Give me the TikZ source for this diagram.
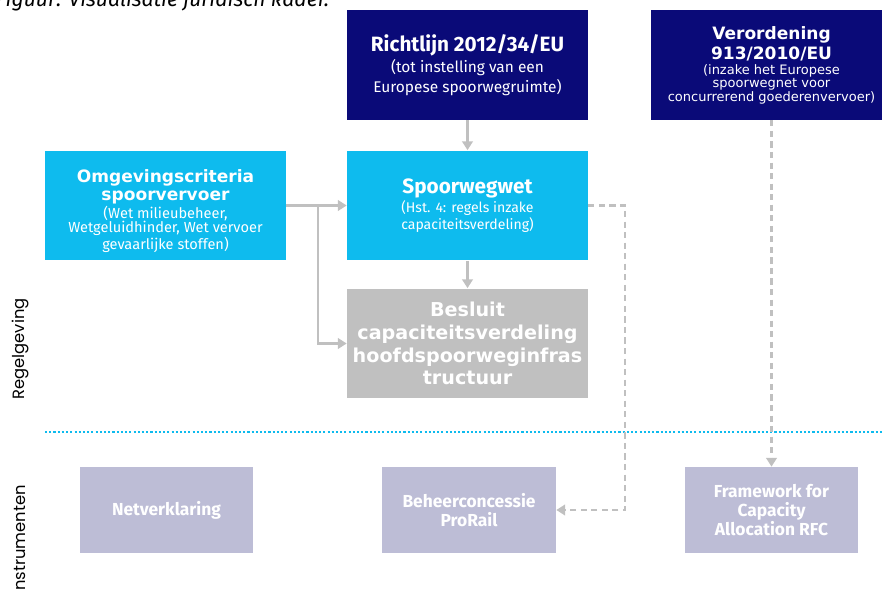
\documentclass[tikz,border=0pt]{standalone}
\usepackage{fontspec}
\setmainfont{Fira Sans}
\newfontfamily\widefont{DejaVu Sans}
\newfontfamily\sidefont{Poppins}
\usetikzlibrary{arrows.meta}
\definecolor{navy}{RGB}{10,10,120}
\definecolor{skyblue}{RGB}{14,187,238}
\definecolor{stonegray}{RGB}{192,192,192}
\definecolor{lilac}{RGB}{189,189,214}
\definecolor{linegray}{RGB}{192,192,192}
% line fonts (a \\ must not sit inside a group)
\newcommand\headfont{\bfseries\fontsize{11.8}{12}\selectfont}
\newcommand\widehead{\widefont\bfseries\fontsize{9.7}{10.5}\selectfont}
\tikzset{
	bigbox/.style={fill=#1, text=white, align=center, inner sep=2pt, minimum width=4.82cm, minimum height=2.2cm},
	smallbox/.style={fill=lilac, text=white, align=center, inner sep=2pt, minimum width=3.48cm, minimum height=1.72cm, font=\bfseries\fontsize{9.9}{10.8}\selectfont},
	conn/.style={draw=linegray, line width=1.5pt, -{Triangle[length=5pt,width=6pt]}},
	dconn/.style={conn, line width=1.3pt, dash pattern=on 3.5pt off 2.5pt},
	sidelabel/.style={rotate=90, font=\sidefont\fontsize{9.3}{11}\selectfont}
}
\begin{document}
\begin{tikzpicture}[x=0.02cm, y=-0.02cm]
		\useasboundingbox (0,0) rectangle (882,590);
		\clip (0,0) rectangle (882,590);
		\node (caption) at (-10,7) [anchor=base west, font=\itshape\fontsize{12}{13}\selectfont]{Figuur: Visualisatie juridisch kader.};
		
		%regelgeving
		\node (richtlijn) at (467.5,65) [bigbox=navy, font=\fontsize{8.8}{11.3}\selectfont]{\headfont Richtlijn 2012/34/EU\\[1pt]
			(tot instelling van een\\Europese spoorwegruimte)};
		\node (verordening) at (771.5,65) [bigbox=navy, font=\widefont\fontsize{7.4}{7.2}\selectfont]{\widehead Verordening\\[1.5pt]\widehead 913/2010/EU\\[1pt]
			(inzake het Europese\\[0.5pt]spoorwegnet voor\\[0.5pt]concurrerend goederenvervoer)};
		\node (omgeving) at (165.5,205.5) [bigbox=skyblue, font=\fontsize{8.3}{8.2}\selectfont]{\widehead\raisebox{0pt}[14pt]{Omgevingscriteria}\\[2pt]\widehead spoorvervoer\\
			(Wet milieubeheer,\\Wetgeluidhinder, Wet vervoer\\gevaarlijke stoffen)};
		\node (spoorwegwet) at (467.5,205.5) [bigbox=skyblue, font=\fontsize{8}{9.6}\selectfont]{\headfont Spoorwegwet\\[1pt]
			(Hst. 4: regels inzake\\capaciteitsverdeling)};
		\node (besluit) at (467.5,343.5) [bigbox=stonegray, font=\widefont\bfseries\fontsize{10.9}{13}\selectfont]{Besluit\\capaciteitsverdeling\\hoofdspoorweginfras\\tructuur};
		
		%instrumenten
		\node (netverklaring) at (166.5,510) [smallbox]{Netverklaring};
		\node (beheer) at (469,510) [smallbox]{Beheerconcessie\\ProRail};
		\node (framework) at (771.5,510) [smallbox]{Framework for\\Capacity\\Allocation RFC};
		
		\draw[draw=skyblue, line width=0.8pt, dash pattern=on 1.2pt off 1.2pt] (45,432) -- (882,432);
		\node (regelgeving) at (20,349) [sidelabel]{Regelgeving};
		\node (instrumenten) at (20,540) [sidelabel]{Instrumenten};
		
		%connectors
		\coordinate (split) at (318,205.5);
		\coordinate (dashcorner) at (625,205.5);
		\draw[conn] (richtlijn) -- (spoorwegwet);
		\draw[conn] (omgeving) -- (spoorwegwet);
		\draw[conn] (split) |- (besluit.west);
		\draw[conn] (spoorwegwet) -- (besluit);
		\draw[dconn] (spoorwegwet.east) -- (dashcorner) |- (beheer.east);
		\draw[dconn] (verordening) -- (framework);
		\end{tikzpicture}
\end{document}
